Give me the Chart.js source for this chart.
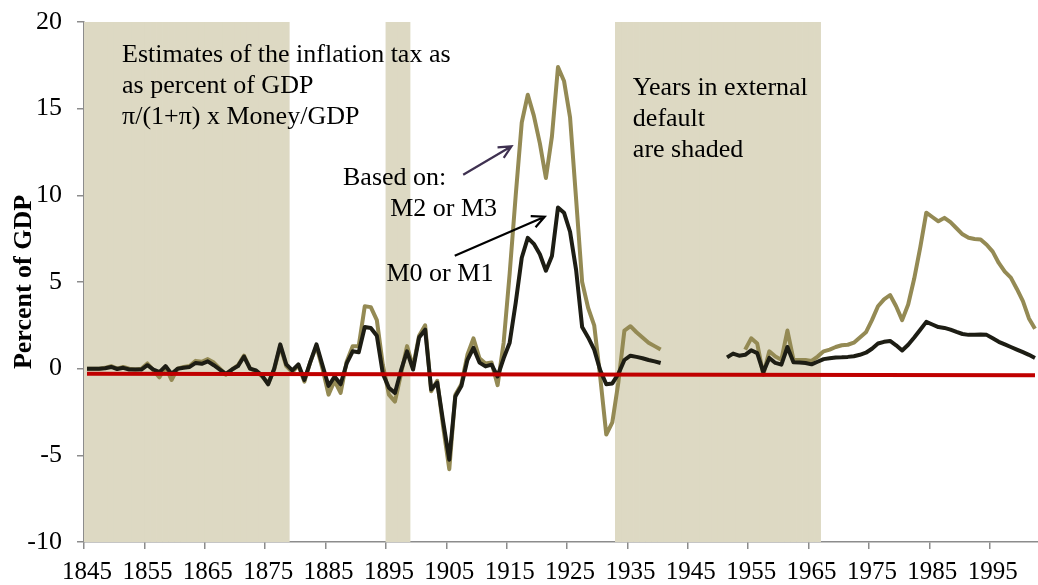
<!DOCTYPE html>
<html>
<head>
<meta charset="utf-8">
<script src="https://cdn.jsdelivr.net/npm/chart.js@4.4.1/dist/chart.umd.min.js"></script>
<style>
  html, body { margin: 0; padding: 0; background: #fff; }
  #wrap { width: 1038px; height: 585px; }
</style>
</head>
<body>
<div id="wrap"><canvas id="chart" width="1038" height="585"></canvas></div>
<script>
// inflation tax estimates, percent of GDP

const firstYear = 1845;
const lastYear = 2002;

// based on M2 or M3, 1845-1940
const m2Early = [
  0.0, 0.0, 0.0, 0.05, 0.15,            // 1845-1849
  0.0, 0.1, 0.0, -0.05, 0.0, 0.3, -0.1, -0.5, 0.1, -0.65,     // 1850s
  0.0, 0.1, 0.15, 0.45, 0.4, 0.55, 0.35, 0.0, -0.35, -0.05,   // 1860s
  0.2, 0.75, 0.0, -0.15, -0.45, -0.85, -0.05, 1.3, 0.15, -0.2, // 1870s
  0.2, -0.75, 0.4, 1.3, 0.0, -1.5, -0.7, -1.4, 0.4, 1.3,      // 1880s
  1.3, 3.6, 3.55, 2.8, 0.2, -1.5, -1.9, -0.3, 1.3, 0.1,       // 1890s
  1.9, 2.5, -1.3, -0.7, -3.4, -5.8, -1.5, -0.9, 0.8, 1.75,    // 1900s
  0.6, 0.3, 0.35, -0.95, 1.5, 5.5, 10.0, 14.2, 15.8, 14.6,    // 1910s
  13.0, 11.0, 13.4, 17.4, 16.6, 14.5, 9.8, 5.0, 3.5, 2.5,     // 1920s
  -0.5, -3.8, -3.1, -0.8, 2.2, 2.45, 2.1, 1.8, 1.5, 1.3,      // 1930s
  1.1                                                          // 1940
];
// based on M2 or M3, 1954-2002
const m2Late = [
  1.1, 1.75, 1.45, -0.35, 1.0, 0.7,                            // 1954-1959
  0.52, 2.2, 0.52, 0.5, 0.5, 0.45, 0.7, 1.0, 1.1, 1.25,        // 1960s
  1.35, 1.38, 1.5, 1.8, 2.1, 2.8, 3.6, 4.0, 4.25, 3.6,         // 1970s
  2.8, 3.7, 5.2, 7.0, 9.0, 8.75, 8.5, 8.7, 8.45, 8.1,          // 1980s
  7.75, 7.55, 7.48, 7.45, 7.15, 6.75, 6.1, 5.6, 5.25, 4.6,     // 1990s
  3.9, 2.9, 2.3                                                // 2000-2002
];

// based on M0 or M1, 1845-1940
const m0Early = [
  0.0, 0.0, 0.0, 0.02, 0.1,
  -0.02, 0.05, -0.05, -0.05, -0.05, 0.2, -0.05, -0.2, 0.15, -0.3,
  0.0, 0.05, 0.1, 0.33, 0.28, 0.42, 0.2, -0.05, -0.3, -0.05,
  0.15, 0.7, 0.0, -0.1, -0.4, -0.9, 0.0, 1.4, 0.25, -0.1,
  0.25, -0.65, 0.4, 1.4, 0.2, -1.0, -0.45, -0.9, 0.3, 1.0,
  0.95, 2.4, 2.35, 1.9, -0.3, -1.1, -1.4, -0.1, 1.0, -0.05,
  1.8, 2.25, -1.2, -0.8, -3.1, -5.25, -1.6, -1.0, 0.5, 1.2,
  0.35, 0.13, 0.23, -0.45, 0.6, 1.5, 3.8, 6.4, 7.55, 7.2,
  6.6, 5.65, 6.5, 9.3, 9.0, 7.9, 5.7, 2.4, 1.8, 1.1,
  -0.1, -0.9, -0.85, -0.3, 0.5, 0.75, 0.68, 0.6, 0.5, 0.42,
  0.33
];
// based on M0 or M1, 1951-2002
const m0Late = [
  0.65, 0.87, 0.75, 0.8, 1.06, 0.9, -0.2, 0.62, 0.33,          // 1951-1959
  0.23, 1.25, 0.37, 0.36, 0.33, 0.25, 0.4, 0.55, 0.6, 0.65,    // 1960s
  0.66, 0.68, 0.72, 0.8, 0.92, 1.15, 1.45, 1.55, 1.6, 1.35,    // 1970s
  1.05, 1.38, 1.8, 2.25, 2.7, 2.55, 2.4, 2.35, 2.25, 2.12,     // 1980s
  2.0, 1.95, 1.95, 1.97, 1.95, 1.75, 1.55, 1.4, 1.25, 1.1,     // 1990s
  0.95, 0.8, 0.62                                              // 2000-2002
];

// years in external default (shaded)
const defaultPeriods = [[1845, 1878], [1895, 1898], [1933, 1966]];

// red reference line, first and last year
const trendEnds = [-0.3, -0.38];

const yTicks = { min: -10, max: 20, step: 5 };

const years = [];
for (let y = firstYear; y <= lastYear; y++) years.push(String(y));

function alignSeries(parts) {
  const out = years.map(() => null);
  parts.forEach(function(p) {
    p[1].forEach(function(v, i) { out[p[0] - firstYear + i] = v; });
  });
  return out;
}

const m2 = alignSeries([[1845, m2Early], [1954, m2Late]]);
const m0 = alignSeries([[1845, m0Early], [1951, m0Late]]);
const shade = years.map(function(y) {
  const yr = +y;
  return defaultPeriods.some(p => yr >= p[0] && yr <= p[1]) ? [yTicks.min, yTicks.max] : null;
});
const trend = years.map(() => null);
trend[0] = trendEnds[0];
trend[trend.length - 1] = trendEnds[1];

const serif = '"Liberation Serif", "Times New Roman", serif';

// notes drawn on the chart, placed in year / value units
const notes = [
  { year: 1850.8, value: 17.7, lines: ['Estimates of the inflation tax as', 'as percent of GDP', 'π/(1+π) x Money/GDP'] },
  { year: 1887.4, value: 10.62, lines: ['Based on:'] },
  { year: 1895.2, value: 8.83, lines: ['M2 or M3'] },
  { year: 1894.6, value: 5.05, lines: ['M0 or M1'] },
  { year: 1935.4, value: 15.81, lines: ['Years in external', 'default', 'are shaded'] }
];
const arrows = [
  { from: [1907.3, 11.19], to: [1915.3, 12.83], color: '#3f3151' },
  { from: [1905.9, 6.52], to: [1920.8, 8.77], color: '#000000' }
];

const notesPlugin = {
  id: 'notes',
  afterDraw(chart) {
    const ctx = chart.ctx;
    const xs = chart.scales.x, ys = chart.scales.y;
    const px = yr => xs.getPixelForValue(yr - firstYear);
    const py = v => ys.getPixelForValue(v);
    ctx.save();
    ctx.fillStyle = '#000';
    ctx.font = '26px ' + serif;
    ctx.textBaseline = 'alphabetic';
    ctx.textAlign = 'left';
    notes.forEach(function(n) {
      n.lines.forEach(function(t, i) {
        ctx.fillText(t, px(n.year), py(n.value) + i * 31);
      });
    });
    arrows.forEach(function(a) {
      const x1 = px(a.from[0]), y1 = py(a.from[1]);
      const x2 = px(a.to[0]), y2 = py(a.to[1]);
      const ang = Math.atan2(y2 - y1, x2 - x1);
      ctx.strokeStyle = a.color;
      ctx.lineWidth = 2.2;
      ctx.beginPath();
      ctx.moveTo(x1, y1);
      ctx.lineTo(x2, y2);
      ctx.moveTo(x2 - 14 * Math.cos(ang - 0.45), y2 - 14 * Math.sin(ang - 0.45));
      ctx.lineTo(x2, y2);
      ctx.lineTo(x2 - 14 * Math.cos(ang + 0.45), y2 - 14 * Math.sin(ang + 0.45));
      ctx.stroke();
    });
    ctx.restore();
  }
};

const ctx = document.getElementById('chart').getContext('2d');
new Chart(ctx, {
  data: {
    labels: years,
    datasets: [
      {
        type: 'bar', data: shade, backgroundColor: '#DDD9C3', borderWidth: 0,
        barPercentage: 1, categoryPercentage: 1, order: 10
      },
      {
        type: 'line', label: 'M2 or M3', data: m2, borderColor: '#948A54', borderWidth: 4,
        pointRadius: 0, tension: 0, borderJoinStyle: 'round', order: 3
      },
      {
        type: 'line', label: 'M0 or M1', data: m0, borderColor: '#1d1d14', borderWidth: 4,
        pointRadius: 0, tension: 0, borderJoinStyle: 'round', order: 2
      },
      {
        type: 'line', data: trend, borderColor: '#C00000', borderWidth: 4,
        pointRadius: 0, spanGaps: true, order: 1
      }
    ]
  },
  options: {
    responsive: false,
    animation: false,
    layout: { padding: { top: 22, right: 0, bottom: 0, left: 0 } },
    plugins: { legend: { display: false }, tooltip: { enabled: false } },
    scales: {
      x: {
        type: 'category',
        offset: true,
        afterFit: s => { s.height = 43; s.paddingRight = 0; s.paddingLeft = 0; },
        grid: {
          offset: true, drawOnChartArea: false, tickLength: 7, lineWidth: 1.5,
          color: c => (c.index % 10 === 0 ? '#8c8c8c' : 'rgba(0,0,0,0)')
        },
        border: { color: '#8c8c8c', width: 1.5 },
        ticks: {
          autoSkip: false, maxRotation: 0, minRotation: 0, padding: 8, color: '#000',
          font: { family: serif, size: 25 },
          callback: (v, i) => (i % 10 === 0 ? years[i] : '')
        }
      },
      y: {
        min: yTicks.min, max: yTicks.max,
        afterFit: s => { s.width = 84; s.paddingTop = 0; s.paddingBottom = 0; },
        grid: { drawOnChartArea: false, tickLength: 7, color: '#8c8c8c', lineWidth: 1.5 },
        border: { color: '#8c8c8c', width: 1.5 },
        ticks: { stepSize: yTicks.step, padding: 15, color: '#000', font: { family: serif, size: 26 } },
        title: {
          display: true, text: 'Percent of GDP', color: '#000',
          font: { family: serif, size: 26, weight: 'bold' },
          padding: { top: 9, bottom: 0 }
        }
      }
    }
  },
  plugins: [notesPlugin]
});
</script>
</body>
</html>
